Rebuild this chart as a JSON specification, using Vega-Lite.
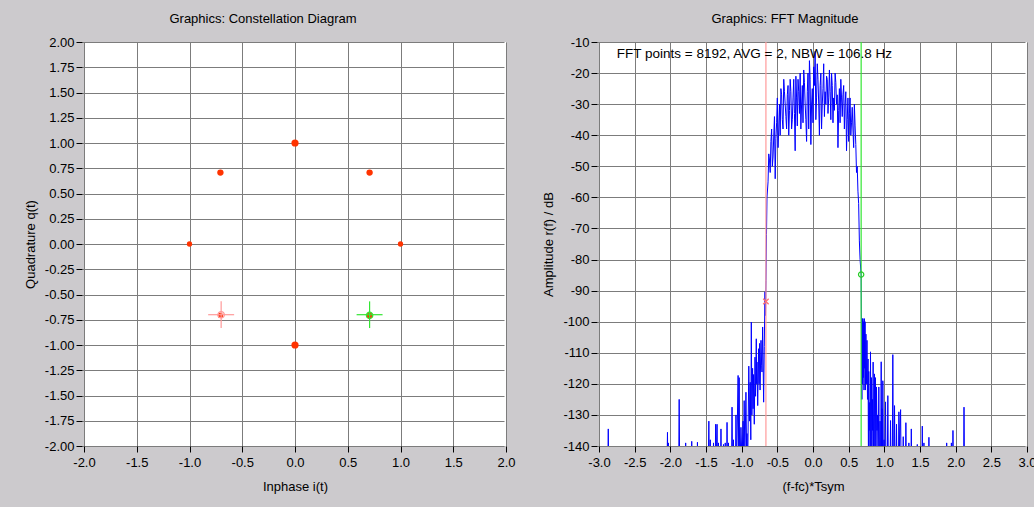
{
  "$schema": "https://vega.github.io/schema/vega-lite/v6.json",
  "background": "#cccacd",
  "padding": {"left": 24, "top": 13, "right": 0, "bottom": 20},
  "bounds": "flush",
  "spacing": 93,
  "config": {
    "font": "Liberation Sans",
    "view": {"fill": "white", "stroke": null},
    "axis": {"labelFont": "Liberation Sans", "labelFontSize": 13, "labelColor": "black", "titleFont": "Liberation Sans", "titleFontSize": 13, "titleFontWeight": "normal", "titleColor": "black", "domain": false, "tickColor": "black", "tickSize": 6, "gridColor": "#7c7c7c", "gridOpacity": 1, "gridWidth": 1, "labelOverlap": false, "labelFlush": false, "labelBound": false, "tickCount": 40},
    "axisY": {"offset": 2, "labelPadding": 2, "titlePadding": 7},
    "axisX": {"labelPadding": 4, "titlePadding": 11},
    "title": {"fontSize": 13, "fontWeight": "normal", "color": "black", "frame": "group", "anchor": "middle", "offset": 10, "font": "Liberation Sans"}
  },
  "hconcat": [
    {
      "width": 422,
      "height": 404,
      "title": {"text": "Graphics: Constellation Diagram", "dx": -32},
      "layer": [
        {
          "data": {"values": [
            {"i": 1, "q": 0, "n": 1},
            {"i": 0.707, "q": 0.707, "n": 2},
            {"i": 0, "q": 1, "n": 3},
            {"i": -0.707, "q": 0.707, "n": 2},
            {"i": -1, "q": 0, "n": 1},
            {"i": -0.707, "q": -0.707, "n": 1},
            {"i": 0, "q": -1, "n": 3},
            {"i": 0.707, "q": -0.707, "n": 2}
          ]},
          "mark": {"type": "circle", "color": "#ff3300", "opacity": 1},
          "encoding": {
            "x": {"field": "i", "type": "quantitative", "scale": {"domain": [-2, 2], "nice": false},
                  "axis": {"title": "Inphase i(t)", "tickCount": 40, "values": [-2, -1.5, -1, -0.5, 0, 0.5, 1, 1.5, 2], "labelExpr": "replace(format(datum.value,'.1f'),'\u2212','-')"}},
            "y": {"field": "q", "type": "quantitative", "scale": {"domain": [-2, 2], "nice": false},
                  "axis": {"title": "Quadrature q(t)", "tickCount": 40, "values": [-2, -1.75, -1.5, -1.25, -1, -0.75, -0.5, -0.25, 0, 0.25, 0.5, 0.75, 1, 1.25, 1.5, 1.75, 2], "labelExpr": "replace(format(datum.value,'.2f'),'\u2212','-')"}},
            "size": {"field": "n", "type": "quantitative", "scale": {"domain": [1, 3], "range": [28, 52]}, "legend": null}
          }
        },
        {
          "data": {"values": [
            {"marker": "M1", "i": -0.823, "i2": -0.577, "q": -0.70, "q2": -0.70},
            {"marker": "M1", "i": -0.70, "i2": -0.70, "q": -0.568, "q2": -0.832},
            {"marker": "M2", "i": 0.584, "i2": 0.83, "q": -0.70, "q2": -0.70},
            {"marker": "M2", "i": 0.707, "i2": 0.707, "q": -0.568, "q2": -0.832}
          ]},
          "mark": {"type": "rule", "strokeWidth": 1.2},
          "encoding": {
            "x": {"field": "i", "type": "quantitative"},
            "x2": {"field": "i2"},
            "y": {"field": "q", "type": "quantitative"},
            "y2": {"field": "q2"},
            "color": {"field": "marker", "type": "nominal", "scale": {"domain": ["M1", "M2"], "range": ["#ff9a9a", "#33e633"]}, "legend": null}
          }
        },
        {
          "data": {"values": [
            {"marker": "M1", "i": -0.70, "q": -0.70},
            {"marker": "M2", "i": 0.707, "q": -0.707}
          ]},
          "mark": {"type": "point", "filled": false, "size": 40, "strokeWidth": 1.3, "opacity": 1},
          "encoding": {
            "x": {"field": "i", "type": "quantitative"},
            "y": {"field": "q", "type": "quantitative"},
            "color": {"field": "marker", "type": "nominal", "scale": {"domain": ["M1", "M2"], "range": ["#ff9a9a", "#22cc22"]}, "legend": null}
          }
        }
      ]
    },
    {
      "width": 428,
      "height": 404,
      "title": {"text": "Graphics: FFT Magnitude", "dx": -28},
      "layer": [
        {
          "data": {"values": [
            {"f": -3.0, "db": -150},
            {"f": -2.878, "db": -150}, {"f": -2.87, "db": -134.5}, {"f": -2.862, "db": -150},
            {"f": -2.048, "db": -150}, {"f": -2.04, "db": -135.6}, {"f": -2.034, "db": -150}, {"f": -2.028, "db": -139}, {"f": -2.022, "db": -150},
            {"f": -1.884, "db": -150}, {"f": -1.876, "db": -125}, {"f": -1.868, "db": -150},
            {"f": -1.793, "db": -150}, {"f": -1.785, "db": -139}, {"f": -1.777, "db": -150},
            {"f": -1.708, "db": -150}, {"f": -1.70, "db": -138.5}, {"f": -1.692, "db": -150},
            {"f": -1.628, "db": -150}, {"f": -1.62, "db": -138.8}, {"f": -1.612, "db": -150},
            {"f": -1.47, "db": -150}, {"f": -1.46, "db": -132}, {"f": -1.452, "db": -150},
            {"f": -1.44, "db": -138}, {"f": -1.432, "db": -150},
            {"f": -1.40, "db": -150}, {"f": -1.395, "db": -139}, {"f": -1.388, "db": -150},
            {"f": -1.372, "db": -150}, {"f": -1.365, "db": -133}, {"f": -1.355, "db": -145},
            {"f": -1.345, "db": -133}, {"f": -1.337, "db": -150}, {"f": -1.325, "db": -139},
            {"f": -1.317, "db": -150}, {"f": -1.298, "db": -150}, {"f": -1.29, "db": -134.5},
            {"f": -1.282, "db": -150}, {"f": -1.262, "db": -150}, {"f": -1.255, "db": -139.5},
            {"f": -1.245, "db": -150}, {"f": -1.23, "db": -139}, {"f": -1.222, "db": -150},
            {"f": -1.212, "db": -150}, {"f": -1.205, "db": -132.4}, {"f": -1.197, "db": -150},
            {"f": -1.185, "db": -139}, {"f": -1.177, "db": -150}, {"f": -1.143, "db": -150},
            {"f": -1.135, "db": -127.5}, {"f": -1.127, "db": -150}, {"f": -1.115, "db": -138},
            {"f": -1.107, "db": -150}, {"f": -1.088, "db": -150}, {"f": -1.08, "db": -130},
            {"f": -1.072, "db": -148}, {"f": -1.05, "db": -117.3}, {"f": -1.042, "db": -140},
            {"f": -1.035, "db": -118}, {"f": -1.027, "db": -150}, {"f": -1.01, "db": -134},
            {"f": -0.995, "db": -145}, {"f": -0.98, "db": -132}, {"f": -0.972, "db": -142},
            {"f": -0.965, "db": -125.4}, {"f": -0.955, "db": -144}, {"f": -0.94, "db": -122.7},
            {"f": -0.932, "db": -140}, {"f": -0.925, "db": -136}, {"f": -0.915, "db": -146},
            {"f": -0.90, "db": -114.3}, {"f": -0.89, "db": -132}, {"f": -0.88, "db": -119.5},
            {"f": -0.872, "db": -138}, {"f": -0.865, "db": -100.1}, {"f": -0.857, "db": -130},
            {"f": -0.847, "db": -115}, {"f": -0.84, "db": -128}, {"f": -0.833, "db": -117},
            {"f": -0.823, "db": -133}, {"f": -0.813, "db": -111.4}, {"f": -0.805, "db": -124},
            {"f": -0.795, "db": -105.5}, {"f": -0.79, "db": -120}, {"f": -0.785, "db": -113},
            {"f": -0.775, "db": -127}, {"f": -0.763, "db": -108.7}, {"f": -0.756, "db": -120},
            {"f": -0.749, "db": -107}, {"f": -0.742, "db": -122}, {"f": -0.729, "db": -106},
            {"f": -0.72, "db": -114}, {"f": -0.715, "db": -116.2}, {"f": -0.706, "db": -101.7},
            {"f": -0.692, "db": -125.9}, {"f": -0.683, "db": -108}, {"f": -0.673, "db": -90.4},
            {"f": -0.666, "db": -98}, {"f": -0.659, "db": -86.7}, {"f": -0.652, "db": -72},
            {"f": -0.645, "db": -60},
            {"f": -0.63, "db": -55}, {"f": -0.62, "db": -46}, {"f": -0.61, "db": -48}, {"f": -0.60, "db": -52},
            {"f": -0.59, "db": -42}, {"f": -0.58, "db": -38}, {"f": -0.57, "db": -50}, {"f": -0.56, "db": -47},
            {"f": -0.55, "db": -40}, {"f": -0.54, "db": -34}, {"f": -0.53, "db": -54}, {"f": -0.52, "db": -41},
            {"f": -0.51, "db": -36}, {"f": -0.50, "db": -28}, {"f": -0.49, "db": -44}, {"f": -0.48, "db": -38},
            {"f": -0.47, "db": -30}, {"f": -0.46, "db": -40}, {"f": -0.45, "db": -25}, {"f": -0.44, "db": -27},
            {"f": -0.43, "db": -35}, {"f": -0.42, "db": -38}, {"f": -0.41, "db": -22}, {"f": -0.40, "db": -26},
            {"f": -0.39, "db": -30}, {"f": -0.38, "db": -34}, {"f": -0.37, "db": -38}, {"f": -0.36, "db": -27},
            {"f": -0.35, "db": -24}, {"f": -0.34, "db": -40}, {"f": -0.33, "db": -32}, {"f": -0.32, "db": -22},
            {"f": -0.31, "db": -26}, {"f": -0.30, "db": -38}, {"f": -0.29, "db": -35}, {"f": -0.28, "db": -28},
            {"f": -0.27, "db": -22}, {"f": -0.26, "db": -33}, {"f": -0.25, "db": -45}, {"f": -0.24, "db": -21},
            {"f": -0.23, "db": -28}, {"f": -0.22, "db": -37}, {"f": -0.21, "db": -22}, {"f": -0.20, "db": -26},
            {"f": -0.19, "db": -33}, {"f": -0.18, "db": -20}, {"f": -0.17, "db": -38}, {"f": -0.16, "db": -30},
            {"f": -0.15, "db": -24}, {"f": -0.14, "db": -36}, {"f": -0.13, "db": -19}, {"f": -0.12, "db": -23},
            {"f": -0.11, "db": -30}, {"f": -0.10, "db": -35}, {"f": -0.09, "db": -42}, {"f": -0.08, "db": -26},
            {"f": -0.07, "db": -20}, {"f": -0.06, "db": -38}, {"f": -0.05, "db": -16}, {"f": -0.04, "db": -22},
            {"f": -0.03, "db": -43}, {"f": -0.02, "db": -30}, {"f": -0.01, "db": -25}, {"f": 0.00, "db": -36},
            {"f": 0.01, "db": -18}, {"f": 0.02, "db": -24}, {"f": 0.03, "db": -13}, {"f": 0.04, "db": -35},
            {"f": 0.05, "db": -28}, {"f": 0.06, "db": -17}, {"f": 0.07, "db": -22}, {"f": 0.08, "db": -30},
            {"f": 0.09, "db": -40}, {"f": 0.10, "db": -24}, {"f": 0.11, "db": -20}, {"f": 0.12, "db": -38},
            {"f": 0.13, "db": -30}, {"f": 0.14, "db": -25}, {"f": 0.15, "db": -17}, {"f": 0.16, "db": -34},
            {"f": 0.17, "db": -26}, {"f": 0.18, "db": -30}, {"f": 0.19, "db": -21}, {"f": 0.20, "db": -22},
            {"f": 0.21, "db": -33}, {"f": 0.22, "db": -28}, {"f": 0.23, "db": -19}, {"f": 0.24, "db": -26},
            {"f": 0.25, "db": -35}, {"f": 0.26, "db": -20}, {"f": 0.27, "db": -24}, {"f": 0.28, "db": -36},
            {"f": 0.29, "db": -28}, {"f": 0.30, "db": -32}, {"f": 0.31, "db": -20}, {"f": 0.32, "db": -23},
            {"f": 0.33, "db": -30}, {"f": 0.34, "db": -27}, {"f": 0.35, "db": -44}, {"f": 0.36, "db": -32},
            {"f": 0.37, "db": -25}, {"f": 0.38, "db": -36}, {"f": 0.39, "db": -22}, {"f": 0.40, "db": -28},
            {"f": 0.41, "db": -34}, {"f": 0.42, "db": -27}, {"f": 0.43, "db": -24}, {"f": 0.44, "db": -38},
            {"f": 0.45, "db": -30}, {"f": 0.46, "db": -26}, {"f": 0.47, "db": -45}, {"f": 0.48, "db": -35},
            {"f": 0.49, "db": -28}, {"f": 0.50, "db": -42}, {"f": 0.51, "db": -33}, {"f": 0.52, "db": -28},
            {"f": 0.53, "db": -40}, {"f": 0.54, "db": -36}, {"f": 0.55, "db": -31}, {"f": 0.56, "db": -38},
            {"f": 0.57, "db": -44}, {"f": 0.58, "db": -30}, {"f": 0.59, "db": -37}, {"f": 0.60, "db": -43},
            {"f": 0.61, "db": -52}, {"f": 0.62, "db": -50}, {"f": 0.63, "db": -58},
            {"f": 0.64, "db": -62}, {"f": 0.65, "db": -74}, {"f": 0.66, "db": -80}, {"f": 0.675, "db": -85},
            {"f": 0.685, "db": -125}, {"f": 0.69, "db": -99}, {"f": 0.695, "db": -120}, {"f": 0.70, "db": -99},
            {"f": 0.705, "db": -118}, {"f": 0.71, "db": -100}, {"f": 0.715, "db": -122}, {"f": 0.72, "db": -99},
            {"f": 0.725, "db": -115}, {"f": 0.73, "db": -100},
            {"f": 0.735, "db": -122}, {"f": 0.742, "db": -104}, {"f": 0.75, "db": -120}, {"f": 0.757, "db": -106},
            {"f": 0.764, "db": -125}, {"f": 0.772, "db": -112}, {"f": 0.778, "db": -150}, {"f": 0.782, "db": -116},
            {"f": 0.788, "db": -135}, {"f": 0.795, "db": -126}, {"f": 0.80, "db": -150}, {"f": 0.806, "db": -109.7},
            {"f": 0.812, "db": -140}, {"f": 0.82, "db": -118}, {"f": 0.826, "db": -150}, {"f": 0.833, "db": -125},
            {"f": 0.838, "db": -135}, {"f": 0.843, "db": -113}, {"f": 0.85, "db": -150}, {"f": 0.862, "db": -116.8},
            {"f": 0.868, "db": -150}, {"f": 0.876, "db": -118}, {"f": 0.883, "db": -150}, {"f": 0.89, "db": -121},
            {"f": 0.897, "db": -135}, {"f": 0.905, "db": -130}, {"f": 0.912, "db": -150}, {"f": 0.923, "db": -121},
            {"f": 0.93, "db": -150}, {"f": 0.94, "db": -132}, {"f": 0.948, "db": -150}, {"f": 0.956, "db": -112.9},
            {"f": 0.962, "db": -140}, {"f": 0.968, "db": -128}, {"f": 0.974, "db": -150}, {"f": 0.979, "db": -119},
            {"f": 0.987, "db": -150}, {"f": 0.996, "db": -138}, {"f": 1.004, "db": -150}, {"f": 1.017, "db": -125.8},
            {"f": 1.024, "db": -150}, {"f": 1.031, "db": -140}, {"f": 1.04, "db": -150}, {"f": 1.049, "db": -123.8},
            {"f": 1.057, "db": -150}, {"f": 1.066, "db": -145}, {"f": 1.078, "db": -150}, {"f": 1.087, "db": -131.8},
            {"f": 1.095, "db": -150}, {"f": 1.111, "db": -150}, {"f": 1.119, "db": -110.6}, {"f": 1.127, "db": -150},
            {"f": 1.136, "db": -150}, {"f": 1.143, "db": -127}, {"f": 1.151, "db": -150},
            {"f": 1.164, "db": -150}, {"f": 1.171, "db": -133}, {"f": 1.178, "db": -150},
            {"f": 1.196, "db": -150}, {"f": 1.204, "db": -129}, {"f": 1.213, "db": -140}, {"f": 1.228, "db": -128.3},
            {"f": 1.236, "db": -150}, {"f": 1.258, "db": -150}, {"f": 1.265, "db": -137}, {"f": 1.273, "db": -150},
            {"f": 1.295, "db": -150}, {"f": 1.302, "db": -132.5}, {"f": 1.31, "db": -150},
            {"f": 1.337, "db": -150}, {"f": 1.344, "db": -139}, {"f": 1.352, "db": -150},
            {"f": 1.371, "db": -150}, {"f": 1.378, "db": -134.5}, {"f": 1.386, "db": -150},
            {"f": 1.455, "db": -150}, {"f": 1.462, "db": -139.5}, {"f": 1.47, "db": -150},
            {"f": 1.525, "db": -150}, {"f": 1.532, "db": -133.6}, {"f": 1.54, "db": -150},
            {"f": 1.548, "db": -150}, {"f": 1.555, "db": -139}, {"f": 1.563, "db": -150},
            {"f": 1.618, "db": -150}, {"f": 1.625, "db": -137.2}, {"f": 1.633, "db": -150},
            {"f": 1.867, "db": -150}, {"f": 1.874, "db": -139}, {"f": 1.882, "db": -150},
            {"f": 1.933, "db": -150}, {"f": 1.94, "db": -139}, {"f": 1.948, "db": -150},
            {"f": 1.955, "db": -150}, {"f": 1.962, "db": -135}, {"f": 1.97, "db": -150},
            {"f": 2.11, "db": -150}, {"f": 2.117, "db": -127.5}, {"f": 2.125, "db": -150},
            {"f": 3.0, "db": -150}
          ]},
          "mark": {"type": "line", "color": "#0000ff", "strokeWidth": 1, "clip": true},
          "encoding": {
            "x": {"field": "f", "type": "quantitative", "sort": null, "scale": {"domain": [-3, 3], "nice": false},
                  "axis": {"title": "(f-fc)*Tsym", "tickCount": 40, "values": [-3, -2.5, -2, -1.5, -1, -0.5, 0, 0.5, 1, 1.5, 2, 2.5, 3], "labelExpr": "replace(format(datum.value,'.1f'),'\u2212','-')"}},
            "y": {"field": "db", "type": "quantitative", "scale": {"domain": [-140, -10], "nice": false},
                  "axis": {"title": "Amplitude r(f) / dB", "tickCount": 40, "values": [-140, -130, -120, -110, -100, -90, -80, -70, -60, -50, -40, -30, -20, -10], "labelExpr": "replace(format(datum.value,'d'),'\u2212','-')"}}
          }
        },
        {
          "data": {"values": [
            {"marker": "M1", "f": -0.66},
            {"marker": "M2", "f": 0.675}
          ]},
          "mark": {"type": "rule", "strokeWidth": 1.2},
          "encoding": {
            "x": {"field": "f", "type": "quantitative"},
            "color": {"field": "marker", "type": "nominal", "scale": {"domain": ["M1", "M2"], "range": ["#ff9a9a", "#33ee33"]}, "legend": null}
          }
        },
        {
          "data": {"values": [
            {"marker": "M1", "f": -0.66, "db": -93.5}
          ]},
          "mark": {"type": "point", "shape": "M-1,-1L1,1M-1,1L1,-1", "filled": false, "size": 30, "strokeWidth": 1.2, "color": "#ff7070", "opacity": 1},
          "encoding": {
            "x": {"field": "f", "type": "quantitative"},
            "y": {"field": "db", "type": "quantitative"}
          }
        },
        {
          "data": {"values": [
            {"marker": "M2", "f": 0.675, "db": -84.8}
          ]},
          "mark": {"type": "point", "shape": "circle", "filled": false, "size": 28, "strokeWidth": 1.2, "color": "#22cc22", "opacity": 1},
          "encoding": {
            "x": {"field": "f", "type": "quantitative"},
            "y": {"field": "db", "type": "quantitative"}
          }
        },
        {
          "data": {"values": [
            {"f": -2.75, "db": -14, "label": "FFT points = 8192, AVG = 2, NBW = 106.8 Hz"}
          ]},
          "mark": {"type": "text", "align": "left", "baseline": "middle", "fontSize": 13.5, "font": "Liberation Sans", "color": "black"},
          "encoding": {
            "x": {"field": "f", "type": "quantitative"},
            "y": {"field": "db", "type": "quantitative"},
            "text": {"field": "label"}
          }
        }
      ]
    }
  ]
}
